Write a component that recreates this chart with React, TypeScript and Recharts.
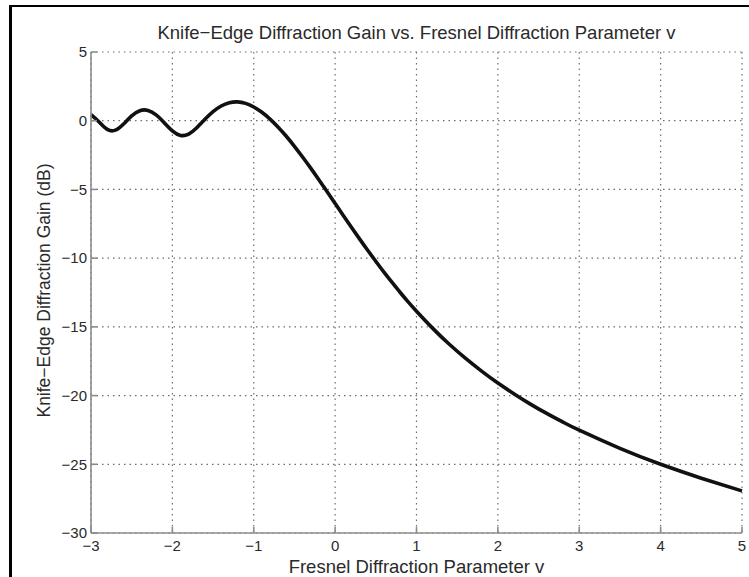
import { CartesianGrid, Label, Line, LineChart, XAxis, YAxis } from "recharts";

const FONT = '"Liberation Sans", Arial, Helvetica, sans-serif';
const BOX = "#8c8c8c";
const GRID = "#6e6e6e";
const TEXT = "#2a2a2a";
const CURVE = "#111111";

// ---- values -----------------------------------------------------------------
const vValues = [
  -3.0, -2.9, -2.8, -2.7, -2.6, -2.5, -2.4, -2.3, -2.2, -2.1,
  -2.0, -1.9, -1.8, -1.7, -1.6, -1.5, -1.4, -1.3, -1.2, -1.1,
  -1.0, -0.9, -0.8, -0.7, -0.6, -0.5, -0.4, -0.3, -0.2, -0.1,
  0.0, 0.1, 0.2, 0.3, 0.4, 0.5, 0.6, 0.7, 0.8, 0.9,
  1.0, 1.2, 1.4, 1.6, 1.8, 2.0, 2.2, 2.4, 2.6, 2.8,
  3.0, 3.5, 4.0, 4.5, 5.0,
];
const gainDb = [
  0.44, -0.09, -0.63, -0.69, -0.24, 0.35, 0.73, 0.75, 0.42, -0.15,
  -0.74, -1.07, -0.97, -0.51, 0.1, 0.66, 1.07, 1.31, 1.37, 1.26,
  1.0, 0.62, 0.12, -0.47, -1.13, -1.86, -2.64, -3.45, -4.29, -5.15,
  -6.02, -6.89, -7.75, -8.6, -9.43, -10.23, -11.02, -11.77, -12.5, -13.2,
  -13.86, -15.11, -16.25, -17.28, -18.22, -19.09, -19.88, -20.62, -21.3, -21.93,
  -22.52, -23.84, -25.0, -26.01, -26.94,
];
const xTicks = [-3, -2, -1, 0, 1, 2, 3, 4, 5];
const yTicks = [-30, -25, -20, -15, -10, -5, 0, 5];

const TITLE = "Knife\u2212Edge Diffraction Gain vs. Fresnel Diffraction Parameter v";
const X_LABEL = "Fresnel Diffraction Parameter v";
const Y_LABEL = "Knife\u2212Edge Diffraction Gain (dB)";

const data = vValues.map((v, i) => ({ v, gain: gainDb[i] }));

const tickStyle = { fontSize: 15, fill: TEXT, fontFamily: FONT };
const minus = (t: number) => (t < 0 ? `\u2212${-t}` : `${t}`);

export default function App() {
  return (
    <div style={{ position: "absolute", left: 0, top: 0, width: 749, height: 577, overflow: "hidden", background: "#fff" }}>
      {/* scanned page frame: top + left edges only */}
      <div
        style={{
          position: "absolute",
          left: 9,
          top: 5,
          width: 760,
          height: 600,
          borderTop: "2px solid #000",
          borderLeft: "3px solid #000",
        }}
      />
      <div
        style={{
          position: "absolute",
          left: 91,
          top: 22,
          width: 651,
          textAlign: "center",
          fontFamily: FONT,
          fontSize: 18.5,
          color: TEXT,
          whiteSpace: "nowrap",
        }}
      >
        {TITLE}
      </div>
      <LineChart
        width={749}
        height={577}
        data={data}
        margin={{ top: 52, right: 7, bottom: 0, left: 31 }}
        style={{ position: "absolute", left: 0, top: 0 }}
      >
        <CartesianGrid stroke={GRID} strokeWidth={1.2} strokeDasharray="1.5 4" />
        <XAxis
          dataKey="v"
          type="number"
          domain={[-3, 5]}
          ticks={xTicks}
          interval={0}
          height={44}
          stroke={BOX}
          strokeWidth={1.6}
          tickSize={-6}
          tickMargin={13}
          tick={tickStyle}
          tickFormatter={minus}
        >
          <Label
            value={X_LABEL}
            position="insideBottom"
            offset={4}
            style={{ fontSize: 18.5, fill: TEXT, fontFamily: FONT }}
          />
        </XAxis>
        <XAxis
          xAxisId="top"
          orientation="top"
          type="number"
          domain={[-3, 5]}
          ticks={xTicks}
          interval={0}
          height={0}
          stroke={BOX}
          strokeWidth={1.6}
          tickSize={-6}
          tick={false}
        />
        <YAxis
          type="number"
          domain={[-30, 5]}
          ticks={yTicks}
          interval={0}
          width={60}
          stroke={BOX}
          strokeWidth={1.6}
          tickSize={-6}
          tickMargin={10}
          tick={tickStyle}
          tickFormatter={minus}
        >
          <Label
            content={({ viewBox }: any) => {
              const cx = viewBox.x + 13;
              const cy = viewBox.y + viewBox.height / 2 - 2;
              return (
                <text
                  x={cx}
                  y={cy}
                  transform={`rotate(-90, ${cx}, ${cy})`}
                  textAnchor="middle"
                  dominantBaseline="central"
                  style={{ fontSize: 17.5, fill: TEXT, fontFamily: FONT }}
                >
                  {Y_LABEL}
                </text>
              );
            }}
          />
        </YAxis>
        <YAxis
          yAxisId="right"
          orientation="right"
          type="number"
          domain={[-30, 5]}
          ticks={yTicks}
          interval={0}
          width={0}
          stroke={BOX}
          strokeWidth={1.6}
          tickSize={-6}
          tick={false}
        />
        <Line
          type="natural"
          dataKey="gain"
          stroke={CURVE}
          strokeWidth={3.6}
          dot={false}
          isAnimationActive={false}
        />
      </LineChart>
    </div>
  );
}
